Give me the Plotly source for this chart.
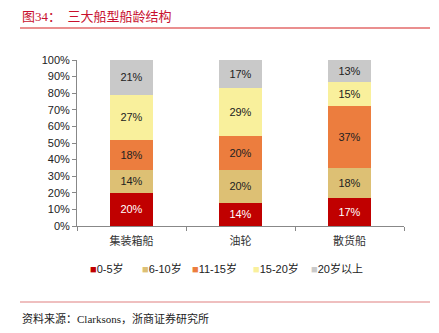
import plotly.graph_objects as go

categories = ["集装箱船", "油轮", "散货船"]
series_names = ["0-5岁", "6-10岁", "11-15岁", "15-20岁", "20岁以上"]
v_0_5 = [20, 14, 17]
v_6_10 = [14, 20, 18]
v_11_15 = [18, 20, 37]
v_15_20 = [27, 29, 15]
v_20p = [21, 17, 13]
series_values = [v_0_5, v_6_10, v_11_15, v_15_20, v_20p]
colors = ["#C00000", "#DDC074", "#EC7D3E", "#F9F09C", "#C9C9C9"]
text_colors = ["#FFFFFF", "#222222", "#222222", "#222222", "#222222"]
y_ticks = list(range(0, 101, 10))
y_tick_labels = [f"{t}%" for t in y_ticks]

L, R, T, B = 77, 404, 60, 226
W, H = 439, 333
pw, ph = R - L, B - T
def px(x):
    return (x - L) / pw
def py(y):
    return (B - y) / ph

fig = go.Figure()
for name, vals, c, tc in zip(series_names, series_values, colors, text_colors):
    fig.add_trace(go.Bar(
        x=categories, y=vals, name=name, marker=dict(color=c, line=dict(width=0)),
        text=[f"{v}%" for v in vals], textposition="inside", insidetextanchor="middle",
        textfont=dict(color=tc, size=11, family="Liberation Sans, Arial"),
        showlegend=False,
    ))

annotations = []
shapes = []
# title
annotations.append(dict(xref="paper", yref="paper", x=px(20), y=py(16), xanchor="left", yanchor="middle",
                        text="图34：  三大船型船龄结构", showarrow=False,
                        font=dict(color="#C8102E", size=13, family="Liberation Serif, Noto Sans CJK SC")))
shapes.append(dict(type="line", xref="paper", yref="paper", x0=px(20), x1=px(430), y0=py(28), y1=py(28),
                   line=dict(color="#D62020", width=1.2)))
shapes.append(dict(type="line", xref="paper", yref="paper", x0=px(20), x1=px(430), y0=py(302), y1=py(302),
                   line=dict(color="#E08080", width=1.2)))
annotations.append(dict(xref="paper", yref="paper", x=px(20), y=py(318), xanchor="left", yanchor="middle",
                        text="资料来源：Clarksons，浙商证券研究所", showarrow=False,
                        font=dict(color="#222222", size=11, family="Liberation Serif, Noto Sans CJK SC")))
# manual legend
leg_x = [90, 142, 192, 253, 311]
for xx, name, c in zip(leg_x, series_names, colors):
    annotations.append(dict(xref="paper", yref="paper", x=px(xx - 2), y=py(268), xanchor="left", yanchor="middle",
                            text=f"<span style='color:{c}'>■</span>{name}", showarrow=False,
                            font=dict(color="#222222", size=11, family="Liberation Sans, Noto Sans CJK SC")))

fig.update_layout(
    barmode="stack", bargap=0.6,
    width=W, height=H, margin=dict(l=L, r=W - R, t=T, b=H - B),
    plot_bgcolor="white", paper_bgcolor="white",
    annotations=annotations, shapes=shapes,
    xaxis=dict(showline=True, linecolor="#888888", linewidth=1, ticks="outside", tickson="boundaries",
               ticklen=4, tickcolor="#888888", ticklabelstandoff=5,
               tickfont=dict(size=11, color="#333333", family="Noto Sans CJK SC")),
    yaxis=dict(range=[0, 100], tickvals=y_ticks, ticktext=y_tick_labels, showline=True, linecolor="#888888",
               linewidth=1, ticks="outside", ticklen=4, tickcolor="#888888", showgrid=False, zeroline=False,
               tickfont=dict(size=11, color="#222222", family="Liberation Sans, Arial")),
    uniformtext=dict(minsize=8, mode="show"),
)
fig.write_html("out.html")
